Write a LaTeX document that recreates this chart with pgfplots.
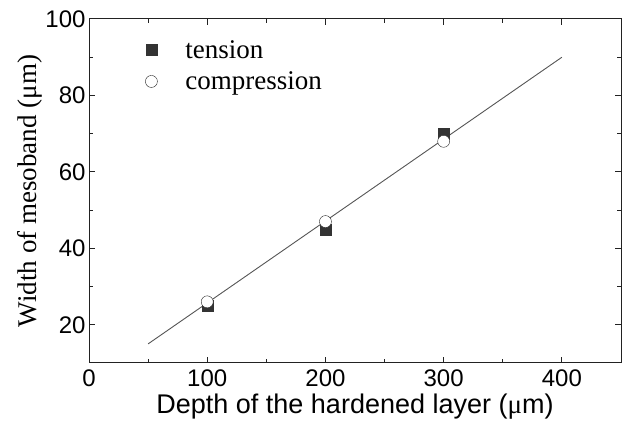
\documentclass[border=0pt]{standalone}
\usepackage{pgfplots}
\pgfplotsset{compat=1.18}
\usepackage{fontspec}
\setmainfont{Liberation Serif}
\setsansfont{Liberation Sans}
\definecolor{markgray}{HTML}{333333}
\definecolor{fitgray}{HTML}{555555}
\definecolor{axgray}{HTML}{222222}
\pgfplotsset{markonly/.style={only marks,
  legend image code/.code={\path[draw=none, fill=none] (0pt,0pt) -- (38pt,0pt);
    \draw[##1, /tikz/only marks] plot coordinates {(6pt,0pt)};}}}
\begin{document}
\begin{tikzpicture}
\begin{axis}[
  scale only axis,
  width=532pt, height=344pt,
  xmin=0, xmax=450, ymin=10, ymax=100,
  xtick={0,100,...,400}, ytick={20,40,...,100},
  minor xtick={50,150,250,350}, minor ytick={30,50,70,90},
  tick align=inside,
  major tick length=6pt, minor tick length=4pt,
  axis line style={line width=1pt, axgray},
  every tick/.style={line width=1pt, axgray},
  tick label style={font=\sffamily\fontsize{24}{24}\selectfont},
  xticklabel style={yshift=-3pt},
  /pgf/number format/assume math mode=true,
  xlabel={\sffamily Depth of the hardened layer ({\rmfamily μ}m)},
  ylabel={Width of mesoband (μm)},
  label style={font=\fontsize{27}{27}\selectfont},
  xlabel style={at={(axis description cs:0.5,0)}, anchor=north, yshift=-27pt},
  ylabel style={at={(axis description cs:-0.111,0.5)}, anchor=center},
  legend style={draw=none, fill=none, at={(axis cs:45,95.5)}, anchor=north west,
    font=\fontsize{27}{27}\selectfont, row sep=8pt},
  legend cell align=left,
]
\addplot[markonly, mark=square*, mark size=5.5pt, color=markgray, fill=markgray] coordinates {(100,25) (200,45) (300,70)};
\addlegendentry{tension}
\addplot[markonly, mark=*, mark size=6pt, draw=axgray, fill=white] coordinates {(100,26) (200,47) (300,68)};
\addlegendentry{compression}
\addplot[fitgray, line width=0.9pt, forget plot] coordinates {(50,15) (400,90)};
\coordinate (sw) at (rel axis cs:0,0);
\coordinate (ne) at (rel axis cs:1,1);
\end{axis}
\useasboundingbox ([shift={(-89pt,-61pt)}]sw) rectangle ([shift={(4pt,19pt)}]ne);
\end{tikzpicture}
\end{document}
